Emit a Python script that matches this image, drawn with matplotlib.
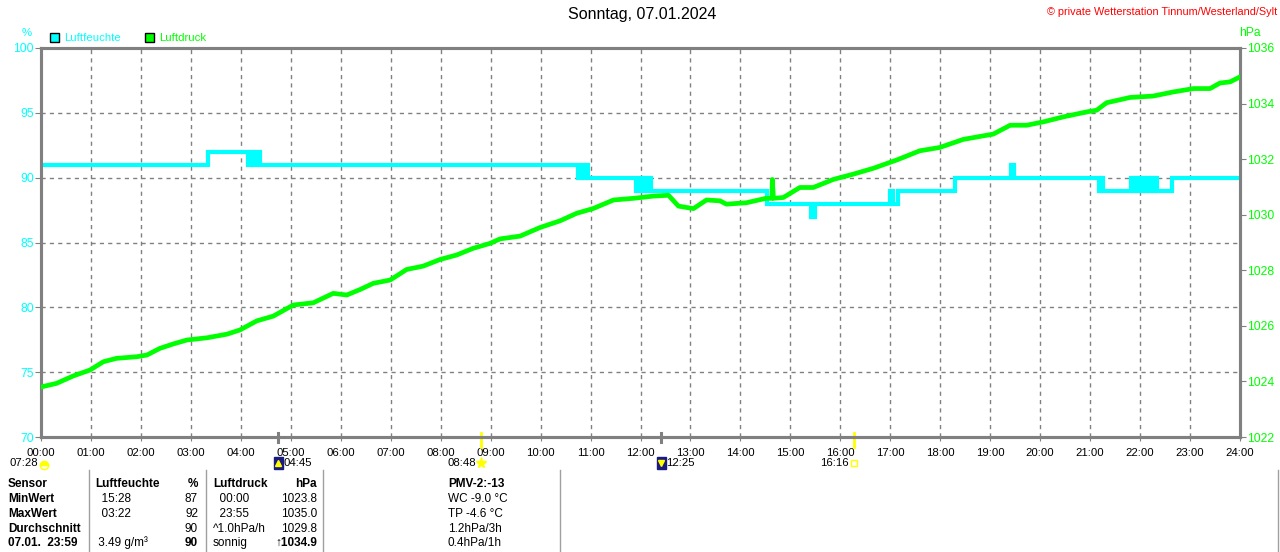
import matplotlib
matplotlib.use("Agg")
import matplotlib.pyplot as plt
from matplotlib.patches import Rectangle

FONT = ["Liberation Sans", "DejaVu Sans"]
plt.rcParams["font.family"] = FONT

CYAN = "#00ffff"
GREEN = "#00ff00"
GRAY = "#808080"
FS = 8.2

# --- data ---
title = "Sonntag, 07.01.2024"
copyright_txt = "\u00a9 private Wetterstation Tinnum/Westerland/Sylt"

hour_labels = ["%02d:00" % h for h in range(25)]

hum_time = [0, 3.35, 4.15, 4.2, 4.24, 4.32, 4.38, 10.75, 10.82, 10.86, 10.9, 10.95,
            11.91, 11.99, 12.05, 12.1, 12.14, 12.18, 12.22, 14.53, 15.42, 15.49,
            16.99, 17.06, 17.15, 18.29, 19.41, 19.48, 21.18, 21.21, 21.25,
            21.82, 21.85, 21.9, 21.94, 21.98, 22.02, 22.06, 22.1, 22.14, 22.18,
            22.22, 22.26, 22.3, 22.33, 22.63, 24.0]
hum_val = [91, 92, 91, 92, 91, 92, 91, 90, 91, 90, 91, 90,
           89, 90, 89, 90, 89, 90, 89, 88, 87, 88,
           89, 88, 89, 90, 91, 90, 89, 90, 89,
           90, 89, 90, 89, 90, 89, 90, 89, 90, 89,
           90, 89, 90, 89, 90, 90]

pres_time = [0.0, 0.31, 0.65, 0.98, 1.25, 1.51, 1.92, 2.12, 2.38, 2.65, 2.92, 3.32,
             3.72, 3.98, 4.32, 4.65, 5.05, 5.45, 5.85, 6.12, 6.39, 6.65, 6.99, 7.32,
             7.65, 7.99, 8.32, 8.65, 8.99, 9.19, 9.59, 9.99, 10.39, 10.72, 11.05,
             11.46, 11.86, 12.26, 12.56, 12.76, 13.06, 13.32, 13.59, 13.72, 14.12,
             14.51, 14.63, 14.64, 14.66, 14.86, 15.19, 15.46, 15.86, 16.26, 16.66,
             17.13, 17.59, 17.99, 18.46, 18.93, 19.06, 19.4, 19.73, 20.06, 20.46,
             20.93, 21.13, 21.33, 21.8, 22.26, 22.67, 23.07, 23.4, 23.6, 23.8, 24.0]
pres_val = [1023.8, 1023.93, 1024.2, 1024.41, 1024.71, 1024.83, 1024.89, 1024.95,
            1025.19, 1025.35, 1025.49, 1025.57, 1025.7, 1025.85, 1026.18, 1026.35,
            1026.75, 1026.83, 1027.17, 1027.11, 1027.31, 1027.53, 1027.65, 1028.03,
            1028.15, 1028.39, 1028.55, 1028.79, 1028.97, 1029.13, 1029.23, 1029.54,
            1029.78, 1030.05, 1030.22, 1030.53, 1030.59, 1030.67, 1030.7, 1030.31,
            1030.22, 1030.53, 1030.5, 1030.38, 1030.43, 1030.59, 1030.59, 1031.27,
            1030.59, 1030.62, 1030.98, 1030.98, 1031.27, 1031.46, 1031.67, 1031.97,
            1032.3, 1032.42, 1032.71, 1032.86, 1032.9, 1033.22, 1033.22, 1033.34,
            1033.52, 1033.7, 1033.76, 1034.03, 1034.22, 1034.27, 1034.42, 1034.54,
            1034.54, 1034.74, 1034.78, 1034.96]

moon_times = [4.75, 12.417]
moon_labels = ["04:45", "12:25"]
moon_arrows = ["^", "v"]
sun_times = [8.8, 16.267]
sun_labels = ["08:48", "16:16"]
dawn_label = "07:28"

table_rows = [
    ["Sensor", "Luftfeuchte", "%", "Luftdruck", "hPa", "PMV-2:-13"],
    ["MinWert", "  15:28", "87", "  00:00", "1023.8", "WC -9.0 \u00b0C"],
    ["MaxWert", "  03:22", "92", "  23:55", "1035.0", "TP -4.6 \u00b0C"],
    ["Durchschnitt", "", "90", "^1.0hPa/h", "1029.8", "1.2hPa/3h"],
    ["07.01.  23:59", " 3.49 g/m\u00b3", "90", "sonnig", "\u21911034.9", "0.4hPa/1h"],
]

# --- figure ---
W, H = 1280, 552
fig = plt.figure(figsize=(W / 100, H / 100), dpi=100)
L, R, T, B = 41, 1240, 48, 437
ax = fig.add_axes([L / W, 1 - B / H, (R - L) / W, (B - T) / H])
ax.set_xlim(0, 24)
ax.set_ylim(70, 100)
ax.set_xticks(range(25))
ax.set_xticklabels(hour_labels, fontsize=FS)
ax.set_yticks(range(70, 101, 5))
ax.tick_params(axis="y", colors=GRAY, labelcolor=CYAN, labelsize=FS + 0.5, length=4, pad=1)
ax.tick_params(axis="x", colors=GRAY, labelcolor="black", length=3, pad=5)
ax.grid(True, color=GRAY, linestyle=(0, (3, 3)), linewidth=1)
for s in ax.spines.values():
    s.set_color(GRAY)
    s.set_linewidth(2.2)

ax.plot(hum_time, hum_val, drawstyle="steps-post", color=CYAN, lw=3, zorder=3,
        solid_joinstyle="miter")

ax2 = ax.twinx()
ax2.set_ylim(1022, 1036)
ax2.set_yticks(range(1022, 1037, 2))
ax2.tick_params(axis="y", colors=GRAY, labelcolor=GREEN, labelsize=FS + 0.5, length=4, pad=1)
for s in ax2.spines.values():
    s.set_color(GRAY)
    s.set_linewidth(2.2)
ax2.plot(pres_time, pres_val, color=GREEN, lw=3.4, zorder=3)

# event markers below the time axis
xt = ax.get_xaxis_transform()
for t, lab, arr in zip(moon_times, moon_labels, moon_arrows):
    ax.plot([t, t], [0.01, -0.012], color=GRAY, lw=2.2, transform=xt, clip_on=False)
    ax.add_patch(Rectangle((t - 0.09, -0.081), 0.18, 0.029, transform=xt,
                           color="#1a1a80", clip_on=False))
    ax.plot([t], [-0.066], marker=arr, ms=4, color="#ffff00", transform=xt,
            clip_on=False)
    ax.text(t + 0.1, -0.067, lab, transform=xt, fontsize=FS, va="center", ha="left")
for t, lab in zip(sun_times, sun_labels):
    ax.plot([t, t], [0.01, -0.025], color="#ffff00", lw=2, transform=xt, clip_on=False)
    ax.text(t - 0.1, -0.067, lab, transform=xt, fontsize=FS, va="center", ha="right")
ax.plot([sun_times[0]], [-0.067], marker="*", ms=8, color="#ffff00", transform=xt,
        clip_on=False)
ax.plot([sun_times[1]], [-0.067], marker="s", ms=4, mfc="none", mec="#ffff00",
        transform=xt, clip_on=False)

# overlay in pixel coordinates for texts outside the axes
ov = fig.add_axes([0, 0, 1, 1], zorder=-1)
ov.set_xlim(0, W)
ov.set_ylim(H, 0)
ov.axis("off")

ov.text(642, 15, title, ha="center", va="center", fontsize=11.5)
ov.text(1277, 12, copyright_txt, ha="right", va="center", fontsize=7.8, color="red")
ov.text(27, 33, "%", ha="center", va="center", fontsize=FS, color=CYAN)
ov.text(1250, 33, "hPa", ha="center", va="center", fontsize=FS + 0.5, color=GREEN)
for x0, col, lab in [(50, CYAN, "Luftfeuchte"), (145, GREEN, "Luftdruck")]:
    ov.add_patch(Rectangle((x0, 33), 9, 9, facecolor=col, edgecolor="black", lw=1))
    ov.text(x0 + 14, 38, lab, ha="left", va="center", fontsize=FS, color=col)

ov.text(38, 463, dawn_label, ha="right", va="center", fontsize=FS)
ov.plot([44], [465], marker="o", ms=6, fillstyle="top", color="#ffff00", mec="#ffff00")

# table
row_y = [484, 499, 514, 529, 543]
TS = 8.5
for i, (row, y) in enumerate(zip(table_rows, row_y)):
    hw = "bold" if i == 0 else "normal"
    ov.text(8, y, row[0], ha="left", va="center", fontsize=TS, weight="bold")
    ov.text(95, y, row[1], ha="left", va="center", fontsize=TS, weight=hw)
    ov.text(198, y, row[2], ha="right", va="center", fontsize=TS,
            weight="bold" if i in (0, 4) else "normal")
    ov.text(213, y, row[3], ha="left", va="center", fontsize=TS, weight=hw)
    ov.text(317, y, row[4], ha="right", va="center", fontsize=TS,
            weight="bold" if i in (0, 4) else "normal")
    ov.text(448, y, row[5], ha="left", va="center", fontsize=TS, weight=hw)
for xs in [89, 206, 323, 560, 1278]:
    ov.plot([xs, xs], [470, H], color="#a0a0a0", lw=1)

fig.savefig("out.png", dpi=100)
